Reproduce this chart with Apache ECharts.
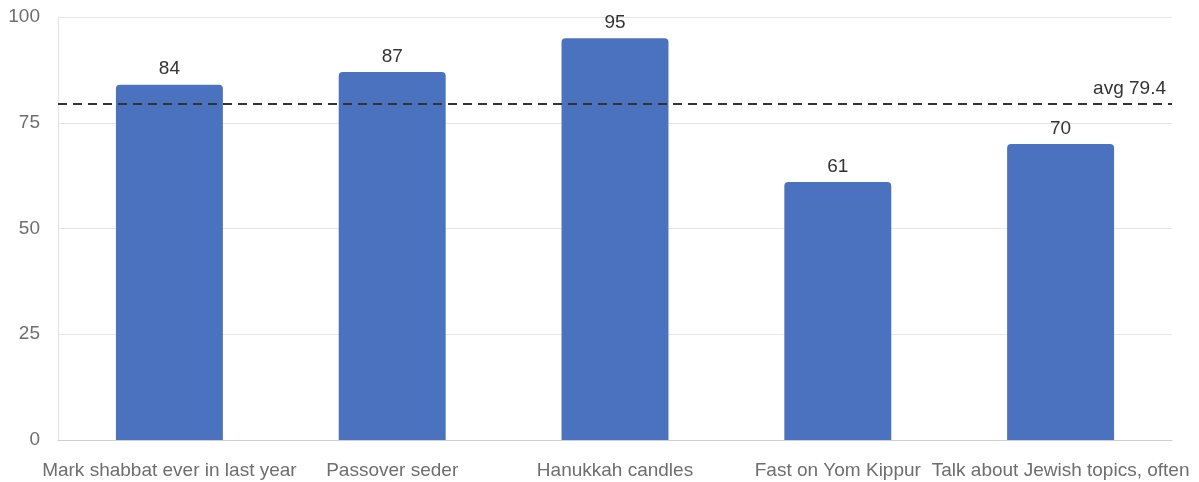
<!DOCTYPE html>
<html>
<head>
<meta charset="utf-8">
<script src="https://cdn.jsdelivr.net/npm/echarts@6/dist/echarts.min.js"></script>
<style>
  html, body { margin: 0; padding: 0; background: #fff; }
  #chart { width: 1199px; height: 482px; }
</style>
</head>
<body>
<div id="chart"></div>
<script>
// Share of respondents reporting each practice
const categories = [
  'Mark shabbat ever in last year',
  'Passover seder',
  'Hanukkah candles',
  'Fast on Yom Kippur',
  'Talk about Jewish topics, often'
];
const values = [84, 87, 95, 61, 70];
const averageValue = 79.4;
const yTicks = [0, 25, 50, 75, 100];

const FONT = '"Liberation Sans", Arial, Helvetica, sans-serif';
const chart = echarts.init(document.getElementById('chart'), null, { renderer: 'canvas' });

chart.setOption({
  animation: false,
  grid: { left: 58, right: 27, top: 17, bottom: 42, containLabel: false },
  xAxis: {
    type: 'category',
    data: categories,
    axisTick: { show: false },
    axisLine: { lineStyle: { color: '#cfcfcf', width: 1 } },
    axisLabel: {
      interval: 0,
      color: '#6e6e6e',
      fontSize: 19,
      fontFamily: FONT,
      margin: 21
    }
  },
  yAxis: {
    type: 'value',
    min: yTicks[0],
    max: yTicks[yTicks.length - 1],
    interval: 25,
    axisLine: { show: true, lineStyle: { color: '#e2e2e2' } },
    axisTick: { show: false },
    splitLine: { lineStyle: { color: '#e6e6e6' } },
    axisLabel: {
      color: '#6e6e6e',
      fontSize: 19,
      fontFamily: FONT,
      margin: 18
    }
  },
  series: [{
    type: 'bar',
    data: values,
    barWidth: '48%',
    itemStyle: { color: '#4b72be', borderRadius: [4, 4, 0, 0] },
    label: {
      show: true,
      position: 'top',
      distance: 6,
      color: '#333',
      fontSize: 19,
      fontFamily: FONT
    },
    markLine: {
      symbol: 'none',
      silent: true,
      data: [{ yAxis: averageValue }],
      lineStyle: { color: '#333', type: [9, 6], width: 2 },
      label: {
        position: 'insideEndTop',
        formatter: 'avg ' + averageValue,
        color: '#333',
        fontSize: 19,
        fontFamily: FONT,
        distance: [6, 6]
      }
    }
  }]
});
</script>
</body>
</html>
